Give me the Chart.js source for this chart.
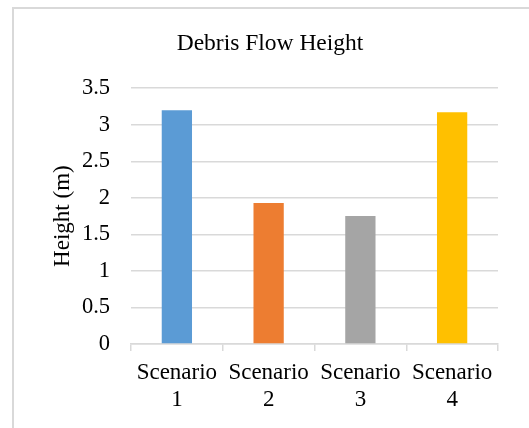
<!DOCTYPE html>
<html>
<head>
    <title>Debris Flow Height</title>
    <script src="https://cdn.jsdelivr.net/npm/chart.js"></script>
    <style>
        body { margin: 0; background: #fff; }
        #wrap { position: relative; width: 529px; height: 428px; overflow: hidden; }
        #frame { position: absolute; left: 12px; top: 7px; width: 600px; height: 500px;
                 border-left: 2px solid #d9d9d9; border-top: 2px solid #d9d9d9; }
        #myChart { position: absolute; left: 0; top: 0; }
    </style>
</head>
<body>
    <div id="wrap">
        <div id="frame"></div>
        <canvas id="myChart" width="529" height="428"></canvas>
    </div>

    <script>
        const categories = [['Scenario', '1'], ['Scenario', '2'], ['Scenario', '3'], ['Scenario', '4']];
        const heights = [3.20, 1.93, 1.75, 3.17];
        const barColors = ['#5B9BD5', '#ED7D31', '#A5A5A5', '#FFC000'];
        const yTicks = [0, 0.5, 1, 1.5, 2, 2.5, 3, 3.5];

        const serif = "'Liberation Serif', 'Times New Roman', serif";

        const ctx = document.getElementById('myChart').getContext('2d');
        const chart = new Chart(ctx, {
            type: 'bar',
            data: {
                labels: categories,
                datasets: [{
                    label: 'Height',
                    data: heights,
                    backgroundColor: barColors,
                    borderWidth: 0,
                    categoryPercentage: 1,
                    barPercentage: 0.33
                }]
            },
            options: {
                responsive: false,
                animation: false,
                layout: { padding: { left: 42, right: 31, top: 0, bottom: 0 } },
                plugins: {
                    legend: { display: false },
                    tooltip: { enabled: false },
                    title: {
                        display: true,
                        text: 'Debris Flow Height',
                        color: '#000',
                        font: { family: serif, size: 23.5, weight: 'normal', lineHeight: 1.2 },
                        padding: { top: 30, bottom: 30 }
                    }
                },
                scales: {
                    x: {
                        grid: {
                            offset: true,
                            drawOnChartArea: false,
                            drawTicks: true,
                            tickLength: 7,
                            color: '#d9d9d9',
                            lineWidth: 1.5
                        },
                        border: { display: true, color: '#d9d9d9', width: 1.5 },
                        ticks: {
                            color: '#000',
                            padding: 8,
                            maxRotation: 0,
                            autoSkip: false,
                            font: { family: serif, size: 23, lineHeight: 1.2 }
                        },
                        afterFit: s => { s.height = 84; }
                    },
                    y: {
                        min: 0,
                        max: 3.5,
                        afterBuildTicks: s => { s.ticks = yTicks.map(v => ({ value: v })); },
                        grid: { color: '#d9d9d9', lineWidth: 1.5, drawTicks: false },
                        border: { display: false },
                        ticks: {
                            color: '#000',
                            padding: 21,
                            font: { family: serif, size: 22.5 },
                            callback: v => String(v)
                        },
                        title: {
                            display: true,
                            text: 'Height (m)',
                            color: '#000',
                            font: { family: serif, size: 23, lineHeight: 1.2 },
                            padding: { top: 7, bottom: 0 }
                        },
                        afterFit: s => { s.width = 89; }
                    }
                }
            }
        });
    </script>
</body>
</html>
